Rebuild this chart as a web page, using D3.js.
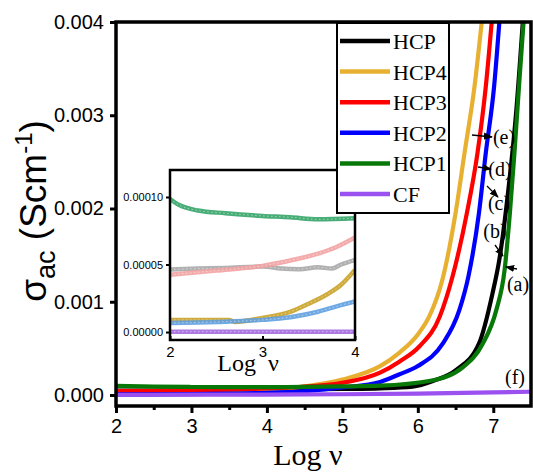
<!DOCTYPE html>
<html><head><meta charset="utf-8">
<script src="https://cdn.jsdelivr.net/npm/d3@7"></script>
<style>body{margin:0;background:#fff}svg{display:block}</style>
</head><body>
<svg id="c" width="533" height="473"></svg>
<script>
// ---------- data ----------
const seriesNames = ["HCP", "HCP4", "HCP3", "HCP2", "HCP1", "CF"];
const seriesColors = ["#000000", "#e8b030", "#ff0000", "#0000ff", "#087808", "#9b50f0"];
const insetColors = ["#a8a8a8", "#c9a227", "#f2a2a2", "#5fa0e0", "#35a468", "#a46be0"];

const xTicks = [2, 3, 4, 5, 6, 7];
const yTicks = [0, 0.001, 0.002, 0.003, 0.004];
const yTickLabels = ["0.000", "0.001", "0.002", "0.003", "0.004"];
const insetXTicks = [2, 3, 4];
const insetYTicks = [0, 0.00005, 0.0001];
const insetYTickLabels = ["0.00000", "0.00005", "0.00010"];

// main plot: [log v, sigma_ac]
const mainHCP  = [[2,0.000046],[3,0.000049],[4,0.000054],[4.5,0.00006],[5,0.000065],[5.5,0.000072],[5.93,0.00009],[6.2,0.00015],[6.51,0.00027],[6.81,0.00055],[6.99,0.00109],[7.08,0.00145],[7.2,0.0022],[7.3,0.003],[7.4,0.0041]];
const mainHCP4 = [[2,0.000009],[2.5,0.00001],[3,0.000012],[3.5,0.000022],[4,0.000045],[4.5,0.000092],[5,0.000165],[5.5,0.00031],[5.75,0.00045],[6,0.00065],[6.15,0.00084],[6.33,0.00125],[6.5,0.00195],[6.62,0.0026],[6.75,0.0033],[6.86,0.0041]];
const mainHCP3 = [[2,0.000043],[2.5,0.000045],[3,0.000049],[3.5,0.000056],[4,0.00007],[4.5,0.00009],[5,0.00013],[5.5,0.00024],[5.76,0.00036],[6.02,0.00052],[6.29,0.00084],[6.46,0.00127],[6.65,0.00195],[6.79,0.00259],[6.9,0.0033],[6.99,0.0041]];
const mainHCP2 = [[2,0.0000067],[3,0.000009],[3.5,0.000014],[4,0.000023],[4.5,0.000042],[5,0.00008],[5.5,0.00014],[5.75,0.00022],[6,0.00031],[6.33,0.00055],[6.55,0.00091],[6.67,0.00127],[6.81,0.00195],[6.9,0.00259],[7.01,0.0033],[7.09,0.0041]];
const mainHCP1 = [[2,0.0000985],[2.5,0.00009],[3,0.000086],[3.5,0.000084],[4,0.000084],[4.5,0.000087],[5,0.000092],[5.5,0.0001],[6.15,0.00015],[6.6,0.0003],[6.86,0.00055],[7.04,0.00091],[7.15,0.00134],[7.22,0.00195],[7.28,0.00259],[7.34,0.0033],[7.41,0.0041]];
const mainCF   = [[2,0.000002],[3,0.000003],[4,0.000005],[5,0.000008],[6,0.000015],[7,0.000028],[7.5,0.000035]];

// inset: [log v, sigma_ac]
const insetHCP  = [[2,0.0000463],[2.3,0.000047],[2.6,0.0000475],[3,0.0000485],[3.2,0.000047],[3.4,0.0000465],[3.6,0.000048],[3.75,0.000047],[3.85,0.00005],[4,0.0000535]];
const insetHCP4 = [[2,0.000009],[2.3,0.000009],[2.64,0.000009],[2.7,0.0000075],[3,0.0000105],[3.3,0.000015],[3.5,0.000021],[3.7,0.000028],[3.85,0.000035],[4,0.000046]];
const insetHCP3 = [[2,0.0000425],[2.5,0.0000455],[3,0.000049],[3.3,0.000053],[3.6,0.000058],[3.8,0.000063],[4,0.00007]];
const insetHCP2 = [[2,0.0000067],[2.5,0.0000075],[3,0.000009],[3.3,0.000011],[3.6,0.000015],[3.8,0.000019],[4,0.0000226]];
const insetHCP1 = [[2,0.0000985],[2.1,0.000094],[2.3,0.00009],[2.6,0.000088],[3,0.000086],[3.3,0.000085],[3.6,0.0000835],[4,0.0000843]];
const insetCF   = [[2,0.0000003],[3,0.0000003],[4,0.0000003]];

const mainData = [mainHCP, mainHCP4, mainHCP3, mainHCP2, mainHCP1, mainCF];
const insetData = [insetHCP, insetHCP4, insetHCP3, insetHCP2, insetHCP1, insetCF];

const annoLabels = ["(e)", "(d)", "(c)", "(b)", "(a)", "(f)"];

// ---------- drawing ----------
const svg = d3.select("#c");
const L = 116, R = 531, T = 22, B = 406;
const x = d3.scaleLinear().domain([2, 7.5]).range([L, R]);
const y = d3.scaleLinear().domain([-0.000118, 0.004]).range([B, T]);

svg.append("clipPath").attr("id", "clipMain").append("rect")
  .attr("x", L).attr("y", T).attr("width", R - L).attr("height", B - T);

const line = d3.line().x(d => x(d[0])).y(d => y(d[1])).curve(d3.curveMonotoneX);
const gCurves = svg.append("g").attr("clip-path", "url(#clipMain)");
mainData.forEach((s, i) => {
  gCurves.append("path").attr("d", line(s)).attr("fill", "none")
    .attr("stroke", seriesColors[i]).attr("stroke-width", 4.2).attr("stroke-linejoin", "round");
});

// axes
const xAxis = d3.axisBottom(x).tickValues(xTicks).tickFormat(d3.format("d")).tickSize(7).tickPadding(6);
const gx = svg.append("g").attr("transform", `translate(0,${B})`).call(xAxis);
gx.select(".domain").remove();
gx.selectAll(".tick line").attr("stroke-width", 3);
gx.selectAll("text").attr("font-family", "Liberation Sans, Arial, sans-serif").attr("font-size", 20).attr("fill", "#000");
const gxm = svg.append("g").attr("transform", `translate(0,${B})`)
  .call(d3.axisBottom(x).tickValues([2.5, 3.5, 4.5, 5.5, 6.5]).tickFormat("").tickSize(4));
gxm.select(".domain").remove();
gxm.selectAll(".tick line").attr("stroke-width", 3);

const yAxis = d3.axisLeft(y).tickValues(yTicks).tickFormat((d, i) => yTickLabels[i]).tickSize(6).tickPadding(6);
const gy = svg.append("g").attr("transform", `translate(${L},0)`).call(yAxis);
gy.select(".domain").remove();
gy.selectAll(".tick line").attr("stroke-width", 3);
gy.selectAll("text").attr("font-family", "Liberation Sans, Arial, sans-serif").attr("font-size", 20).attr("fill", "#000");

// frame
svg.append("rect").attr("x", L).attr("y", T).attr("width", R - L).attr("height", B - T)
  .attr("fill", "none").attr("stroke", "#000").attr("stroke-width", 3.5);

// axis titles
svg.append("text").attr("x", 308).attr("y", 465).attr("text-anchor", "middle")
  .attr("font-family", "Liberation Serif, Times New Roman, serif").attr("font-size", 30).text("Log ν");
const yt = svg.append("text").attr("transform", "translate(46,211) rotate(-90)").attr("text-anchor", "middle")
  .attr("font-family", "Liberation Sans, Arial, sans-serif").attr("font-size", 37);
yt.append("tspan").text("σ");
yt.append("tspan").attr("font-size", 27).attr("dy", 9).text("ac");
yt.append("tspan").attr("dy", -9).text(" (Scm");
yt.append("tspan").attr("font-size", 24).attr("dy", -14).text("-1");
yt.append("tspan").attr("dy", 14).text(")");

// ---------- inset ----------
const iL = 170, iR = 355, iT = 170, iB = 340;
const ix = d3.scaleLinear().domain([2, 4]).range([iL, iR]);
const iy = d3.scaleLinear().domain([-0.0000059, 0.00012]).range([iB, iT]);
svg.append("rect").attr("x", iL).attr("y", iT).attr("width", iR - iL).attr("height", iB - iT).attr("fill", "#fff");
svg.append("clipPath").attr("id", "clipInset").append("rect")
  .attr("x", iL).attr("y", iT).attr("width", iR - iL).attr("height", iB - iT);
const iline = d3.line().x(d => ix(d[0])).y(d => iy(d[1])).curve(d3.curveMonotoneX);
const gi = svg.append("g").attr("clip-path", "url(#clipInset)");
insetData.forEach((s, i) => {
  gi.append("path").attr("d", iline(s)).attr("fill", "none")
    .attr("stroke", insetColors[i]).attr("stroke-width", 4.5).attr("opacity", 0.9);
  gi.append("path").attr("d", iline(s)).attr("fill", "none")
    .attr("stroke", "#fff").attr("stroke-width", 0.8).attr("stroke-dasharray", "1.5,2.5").attr("opacity", 0.6);
});
const gix = svg.append("g").attr("transform", `translate(0,${iB})`)
  .call(d3.axisBottom(ix).tickValues(insetXTicks).tickFormat(d3.format("d")).tickSize(-4).tickPadding(6));
gix.select(".domain").remove();
gix.selectAll(".tick line").attr("stroke-width", 2);
gix.selectAll("text").attr("font-family", "Liberation Sans, Arial, sans-serif").attr("font-size", 15).attr("fill", "#000");
const giy = svg.append("g").attr("transform", `translate(${iL},0)`)
  .call(d3.axisLeft(iy).tickValues(insetYTicks).tickFormat((d, i) => insetYTickLabels[i]).tickSize(4).tickPadding(3));
giy.select(".domain").remove();
giy.selectAll(".tick line").attr("stroke-width", 2);
giy.selectAll("text").attr("font-family", "Liberation Sans, Arial, sans-serif").attr("font-size", 11).attr("fill", "#000");
svg.append("rect").attr("x", iL).attr("y", iT).attr("width", iR - iL).attr("height", iB - iT)
  .attr("fill", "none").attr("stroke", "#000").attr("stroke-width", 2.5);
// inset x title: "Log" and "ν" either side of the "3" tick label, as in the reference
svg.append("text").attr("x", 256).attr("y", 371).attr("text-anchor", "end")
  .attr("font-family", "Liberation Serif, Times New Roman, serif").attr("font-size", 24).text("Log");
svg.append("text").attr("x", 268).attr("y", 371).attr("text-anchor", "start")
  .attr("font-family", "Liberation Serif, Times New Roman, serif").attr("font-size", 24).text("ν");

// ---------- legend ----------
const lg = svg.append("g");
lg.append("rect").attr("x", 337).attr("y", 23).attr("width", 112).attr("height", 190)
  .attr("fill", "#fff").attr("stroke", "#000").attr("stroke-width", 2);
seriesNames.forEach((n, i) => {
  const yy = 41 + i * 30.6;
  lg.append("line").attr("x1", 340).attr("x2", 390).attr("y1", yy).attr("y2", yy)
    .attr("stroke", seriesColors[i]).attr("stroke-width", 4.5);
  lg.append("text").attr("x", 393).attr("y", yy + 8)
    .attr("font-family", "Liberation Serif, Times New Roman, serif").attr("font-size", 22).text(n);
});

// ---------- annotations ----------
svg.append("defs").append("marker").attr("id", "ah").attr("viewBox", "0 0 10 10")
  .attr("refX", 9).attr("refY", 5).attr("markerWidth", 7).attr("markerHeight", 7)
  .attr("orient", "auto-start-reverse").append("path").attr("d", "M0,1 L10,5 L0,9 Z").attr("fill", "#000");
const annoPos = [[504, 144], [500, 176], [499, 210], [495, 238], [518, 291], [515, 384]];
const arrows = [[472, 135, 492, 137], [478, 167, 491, 169], [487, 186, 498, 197], [495, 245, 503, 256], [517, 269, 506, 267]];
annoLabels.forEach((t, i) => {
  svg.append("text").attr("x", annoPos[i][0]).attr("y", annoPos[i][1]).attr("text-anchor", "middle")
    .attr("font-family", "Liberation Serif, Times New Roman, serif").attr("font-size", 20).text(t);
});
arrows.forEach(a => {
  svg.append("line").attr("x1", a[0]).attr("y1", a[1]).attr("x2", a[2]).attr("y2", a[3])
    .attr("stroke", "#000").attr("stroke-width", 1.3).attr("marker-end", "url(#ah)");
});
</script>
</body></html>
